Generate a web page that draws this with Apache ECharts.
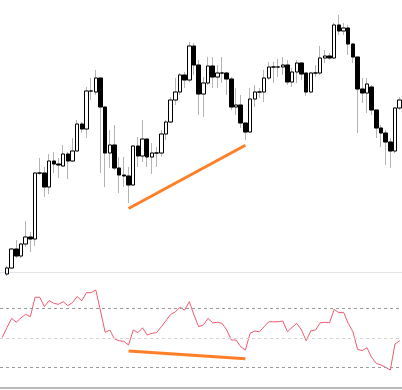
<!DOCTYPE html>
<html><head><meta charset="utf-8">
<script src="https://cdn.jsdelivr.net/npm/echarts@6/dist/echarts.min.js"></script>
<style>html,body{margin:0;padding:0;background:#fff}#c{width:402px;height:390px}</style>
</head><body><div id="c"></div>
<script>
const opens  = [3,6,12,31,24,36,43,41,107,107,93,119,116,114,126,119,129,156,151,189,188,202,173,127,135,112,105,104,95,134,124,141,123,127,127,146,158,180,188,205,200,234,215,186,197,214,203,207,207,201,173,175,157,148,181,188,188,202,213,213,213,215,198,208,217,207,188,207,207,222,224,222,255,249,252,236,223,191,187,193,170,152,147,138,129,172];
const closes = [6,12,31,24,36,43,41,107,107,93,119,116,115,126,119,129,156,151,189,189,202,173,127,135,112,105,104,95,134,124,141,123,127,127,146,158,180,188,205,200,234,215,186,197,214,203,207,207,201,173,175,157,148,181,188,188,202,213,213,213,215,198,208,217,206,188,207,207,222,224,222,255,249,252,236,223,191,187,196,170,152,147,138,129,172,180];
const lows   = [0,4,11,22,22,33,28,34,105,83,86,107,102,113,101,118,129,147,142,180,185,107,93,112,110,87,93,77,94,113,118,113,106,113,123,140,157,175,185,192,198,205,165,163,195,192,192,197,185,170,165,152,140,147,173,182,178,200,197,203,205,195,193,197,200,184,187,203,205,217,220,221,245,245,225,217,147,177,167,165,142,133,115,112,127,170];
const highs  = [7,14,32,40,37,59,48,108,122,113,126,128,122,135,128,142,160,158,193,202,210,202,173,150,155,123,123,113,135,143,160,141,137,133,150,160,183,202,207,208,238,237,220,203,223,223,215,223,208,203,192,185,157,192,195,192,210,218,218,221,223,220,212,220,218,207,208,215,234,230,227,257,265,257,255,237,223,202,202,195,170,155,150,142,173,183];
const rsi    = [50.3,57.0,63.2,60.5,63.6,65.9,64.3,77.5,77.5,71.1,75.2,73.4,72.7,74.5,71.8,73.8,77.9,75.2,80.6,80.6,82.4,68.2,53.7,55.3,49.2,48.0,47.6,45.1,55.3,53.5,56.8,51.9,53.1,53.5,57.5,61.6,65.9,67.5,70.7,68.8,74.5,65.5,57.5,58.7,63.2,60.2,60.5,59.8,55.3,48.5,48.5,44.0,41.7,53.1,54.6,54.1,57.5,60.9,60.9,60.9,61.4,54.1,57.1,59.8,55.3,48.0,54.8,55.3,60.2,60.5,60.2,69.3,67.0,67.3,59.8,54.1,42.2,41.3,43.3,36.8,32.7,31.6,30.0,28.2,45.8,48.0];
const rsiLevels = [70, 50, 30];
const priceTrend = [[27, 71.5], [52, 134.7]];
const rsiTrend = [[27, 41.0], [52, 35.8]];
const categories = opens.map((_, i) => String(i + 1));

const wickData = opens.map((o, i) => [o, closes[i], lows[i], highs[i]]);
const bodyData = opens.map((o, i) => [o, closes[i], Math.min(o, closes[i]), Math.max(o, closes[i])]);

const chart = echarts.init(document.getElementById('c'), null, {renderer: 'canvas'});
chart.setOption({
  animation: false,
  backgroundColor: '#ffffff',
  grid: [
    {left: -1, right: -1, top: 0, height: 272},
    {left: -1, right: -1, top: 272, height: 116}
  ],
  xAxis: [
    {type: 'category', gridIndex: 0, data: categories, boundaryGap: true,
     axisLine: {show: true, onZero: false, lineStyle: {color: '#e4e4ec', width: 1}},
     axisTick: {show: false}, axisLabel: {show: false}, splitLine: {show: false}},
    {type: 'category', gridIndex: 1, data: categories, boundaryGap: true,
     axisLine: {show: true, onZero: false, lineStyle: {color: '#b8b8b8', width: 2}},
     axisTick: {show: false}, axisLabel: {show: false}, splitLine: {show: false}}
  ],
  yAxis: [
    {type: 'value', gridIndex: 0, min: 8, max: 280, show: false, splitLine: {show: false}},
    {type: 'value', gridIndex: 1, min: 16, max: 94.6, show: false, splitLine: {show: false}}
  ],
  series: [
    {type: 'candlestick', xAxisIndex: 0, yAxisIndex: 0, data: wickData, barWidth: 4, clip: true,
     itemStyle: {color: 'rgba(0,0,0,0)', color0: 'rgba(0,0,0,0)', borderColor: '#b4b4b4', borderColor0: '#b4b4b4', borderWidth: 1}},
    {type: 'candlestick', xAxisIndex: 0, yAxisIndex: 0, data: bodyData, barWidth: 4, clip: true,
     itemStyle: {color: '#ffffff', color0: '#000000', borderColor: '#000000', borderColor0: '#000000', borderWidth: 1}},
    {type: 'line', xAxisIndex: 0, yAxisIndex: 0, data: priceTrend, symbol: 'none',
     lineStyle: {color: '#ff7f27', width: 3}},
    {type: 'line', xAxisIndex: 1, yAxisIndex: 1, data: rsi, symbol: 'none',
     lineStyle: {color: '#f25a72', width: 1},
     markLine: {silent: true, symbol: 'none', label: {show: false},
       data: rsiLevels.map(v => ({yAxis: v, lineStyle: {color: v === 50 ? '#d4d4d4' : '#9a9a9a', type: [3, 3], width: 1}}))}},
    {type: 'line', xAxisIndex: 1, yAxisIndex: 1, data: rsiTrend, symbol: 'none',
     lineStyle: {color: '#ff7f27', width: 3}}
  ]
});
</script></body></html>
